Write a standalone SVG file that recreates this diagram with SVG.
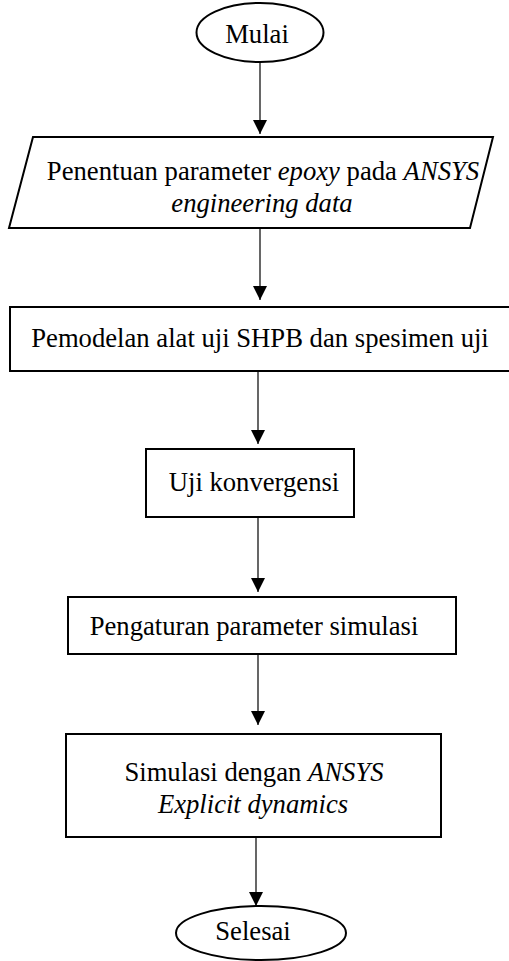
<svg xmlns="http://www.w3.org/2000/svg" width="509" height="961" viewBox="0 0 509 961">
<defs>
<style>
.shape{fill:#ffffff;stroke:#000000;stroke-width:2}
.lbl{font-family:"Liberation Serif","Times New Roman",serif;font-size:26.67px;fill:#000000;text-anchor:middle}
.it{font-style:italic}
.conn{stroke:#000000;stroke-width:1.2;fill:none;marker-end:url(#ah)}
</style>
<marker id="ah" viewBox="0 0 14 14" markerWidth="14" markerHeight="14" refX="14" refY="7" orient="auto" markerUnits="userSpaceOnUse">
<path d="M0,0 L14,7 L0,14 z" fill="#000000"/>
</marker>
</defs>
<rect x="0" y="0" width="509" height="961" fill="#ffffff"/>
<g id="connectors">
<line class="conn" x1="260" y1="62" x2="260" y2="134"/>
<line class="conn" x1="260" y1="228" x2="260" y2="300"/>
<line class="conn" x1="258" y1="371" x2="258" y2="444"/>
<line class="conn" x1="258" y1="517" x2="258" y2="592"/>
<line class="conn" x1="258" y1="654" x2="258" y2="725"/>
<line class="conn" x1="256" y1="834" x2="256" y2="906"/>
</g>
<g id="mulai">
<ellipse class="shape" cx="260" cy="32.5" rx="63.5" ry="29.5"/>
<text class="lbl" x="257" y="43">Mulai</text>
</g>
<g id="penentuan">
<polygon class="shape" points="33,137 493,137 470,228 9,228"/>
<text class="lbl" x="263" y="180">Penentuan parameter <tspan class="it">epoxy</tspan> pada <tspan class="it">ANSYS</tspan></text>
<text class="lbl it" x="262" y="212">engineering data</text>
</g>
<g id="pemodelan">
<rect class="shape" x="10" y="307" width="502" height="64"/>
<text class="lbl" x="260" y="347">Pemodelan alat uji SHPB dan spesimen uji</text>
</g>
<g id="uji">
<rect class="shape" x="146" y="449" width="208" height="68"/>
<text class="lbl" x="254" y="491">Uji konvergensi</text>
</g>
<g id="pengaturan">
<rect class="shape" x="68" y="597" width="388" height="57"/>
<text class="lbl" x="254" y="635">Pengaturan parameter simulasi</text>
</g>
<g id="simulasi">
<rect class="shape" x="66" y="734" width="375" height="103"/>
<text class="lbl" x="254" y="781">Simulasi dengan <tspan class="it">ANSYS</tspan></text>
<text class="lbl it" x="253" y="813">Explicit dynamics</text>
</g>
<g id="selesai">
<ellipse class="shape" cx="261" cy="933" rx="85" ry="27"/>
<text class="lbl" x="253" y="940">Selesai</text>
</g>
</svg>
